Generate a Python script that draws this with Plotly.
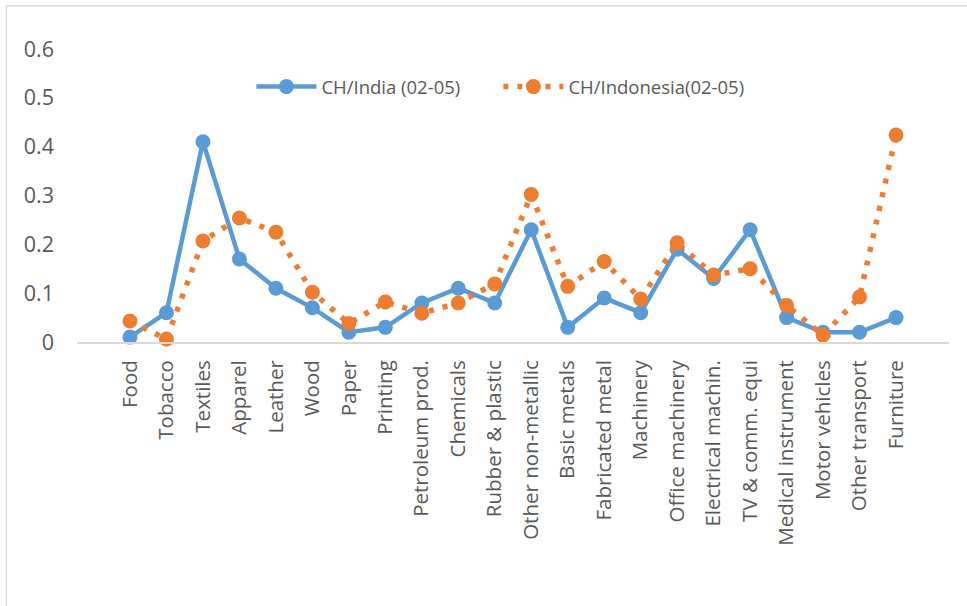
import plotly.graph_objects as go

# Manufacturing industries (ISIC groups)
industries = [
    "Food", "Tobacco", "Textiles", "Apparel", "Leather", "Wood", "Paper",
    "Printing", "Petroleum prod.", "Chemicals", "Rubber & plastic",
    "Other non-metallic", "Basic metals", "Fabricated metal", "Machinery",
    "Office machinery", "Electrical machin.", "TV & comm. equi",
    "Medical instrument", "Motor vehicles", "Other transport", "Furniture",
]

# Index values, 2002-2005
ch_india = [0.01, 0.06, 0.41, 0.17, 0.11, 0.07, 0.02, 0.03, 0.08, 0.11, 0.08,
            0.23, 0.03, 0.09, 0.06, 0.19, 0.13, 0.23, 0.05, 0.02, 0.02, 0.05]
ch_indonesia = [0.043, 0.006, 0.207, 0.254, 0.225, 0.102, 0.038, 0.082, 0.059,
                0.08, 0.119, 0.302, 0.114, 0.165, 0.088, 0.203, 0.137, 0.15,
                0.075, 0.014, 0.092, 0.424]

y_ticks = [0, 0.1, 0.2, 0.3, 0.4, 0.5, 0.6]
y_tick_text = ["0", "0.1", "0.2", "0.3", "0.4", "0.5", "0.6"]

BLUE = "#5B9BD5"
ORANGE = "#ED7D31"
TEXT = "#595959"
FONT = "Open Sans"

fig = go.Figure()
fig.add_trace(go.Scatter(
    x=industries, y=ch_india, name="CH/India (02-05)",
    mode="lines+markers",
    line=dict(color=BLUE, width=4.5),
    marker=dict(color=BLUE, size=15),
    cliponaxis=False,
))
fig.add_trace(go.Scatter(
    x=industries, y=ch_indonesia, name="CH/Indonesia(02-05)",
    mode="lines+markers",
    line=dict(color=ORANGE, width=5.5, dash="5px,9px"),
    marker=dict(color=ORANGE, size=15),
    cliponaxis=False,
))

# Chart-area frame (left and top edges)
fig.add_shape(type="line", xref="paper", yref="paper",
              x0=-0.081, x1=-0.081, y0=1.148, y1=-0.91,
              line=dict(color="#d9d9d9", width=1.5))
fig.add_shape(type="line", xref="paper", yref="paper",
              x0=-0.081, x1=1.03, y0=1.148, y1=1.148,
              line=dict(color="#d9d9d9", width=1.5))

fig.update_layout(
    width=967, height=606,
    margin=dict(l=77, r=18, t=49, b=264),
    paper_bgcolor="white", plot_bgcolor="white",
    font=dict(family=FONT, size=20, color=TEXT),
    showlegend=True,
    legend=dict(
        orientation="h", x=0.2, xanchor="left", y=0.87, yanchor="middle",
        font=dict(family=FONT, size=18.5, color=TEXT),
        bgcolor="rgba(0,0,0,0)",
        itemwidth=60,
        entrywidth=172, entrywidthmode="pixels",
    ),
    xaxis=dict(
        type="category", tickangle=-90, showgrid=False,
        showline=True, linecolor="#d9d9d9", linewidth=2,
        ticks="", ticklabelstandoff=8,
        tickfont=dict(family=FONT, size=20.5, color=TEXT),
        zeroline=False,
    ),
    yaxis=dict(
        range=[0, 0.6], tickvals=y_ticks, ticktext=y_tick_text,
        showgrid=False, showline=False, zeroline=False, ticks="",
        ticklabelstandoff=22,
        tickfont=dict(family=FONT, size=21.5, color=TEXT),
    ),
)

fig.write_html("out.html")
